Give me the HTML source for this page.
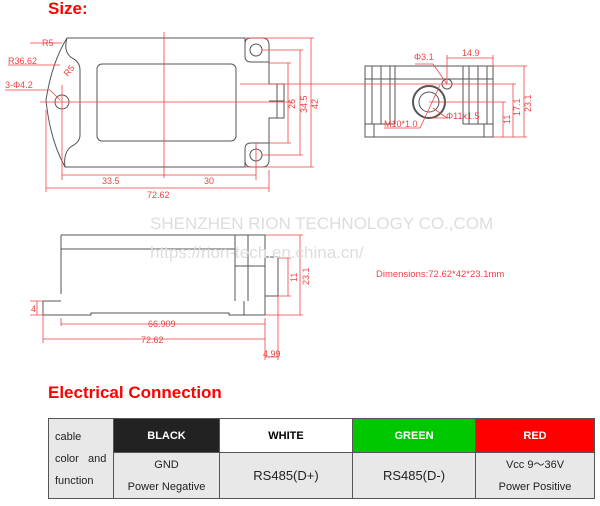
<!DOCTYPE html><html><head><style>
body{margin:0;width:600px;height:506px;background:#fff;position:relative;overflow:hidden;font-family:"Liberation Sans",sans-serif}
.t{position:absolute}
table{position:absolute;left:48px;top:418px;width:546px;table-layout:fixed;border-collapse:collapse;font-size:11px;color:#222}
td{border:1px solid #555;text-align:center;padding:0;background:#e8e8e8;overflow:hidden}
</style></head><body>
<div class="t" style="left:48px;top:-1px;color:#f00;font-weight:bold;font-size:17px">Size:</div>
<svg width="600" height="380" style="position:absolute;left:0;top:0" font-family="Liberation Sans" font-size="9" fill="none">
<g stroke="#555" stroke-width="1">
<path d="M67,38 H245 V56 Q245,62 251,62 H269 V84 H284 V118 H269 V143 H251 Q245,143 245,149 V167 H65 Q50,140 46,100 Q52,62 67,38 Z"/>
<path d="M67,38 Q63,52 72,58 Q80,62 80,70 V135 Q80,142 72,146 Q63,152 65,167"/>
<path d="M245,38 V44 Q245,38 251,38 H262 Q269,38 269,45 V62"/>
<path d="M245,167 V160 Q245,167 251,167 H262 Q269,167 269,160 V143"/>
<rect x="97" y="64" width="139" height="77" rx="5"/>
<circle cx="62" cy="102" r="7"/><circle cx="256" cy="50" r="6"/><circle cx="256" cy="155" r="6"/>
<line x1="277" y1="84" x2="277" y2="118"/><line x1="269" y1="101" x2="284" y2="101"/>
<rect x="365" y="66" width="128" height="71"/><line x1="365" y1="79" x2="493" y2="79"/>
<path d="M372,66V124M381,66V124M390,66V124M395,66V124M463,66V124M469,66V124M478,66V124M487,66V124M365,124H395M463,124H493M374,124V137M484,124V137"/>
<circle cx="447" cy="84" r="5"/><circle cx="429" cy="102" r="16" stroke-width="2"/><circle cx="429" cy="102" r="10"/>
<path d="M61,235 H265 V315 H244 M61,235 V294 M61,249 H235 M235,235 V301 M248,235 V301 M235,266 H265 M43,301 H61 M43,301 V315 H91 V313 H229 V315 H244 V301"/>
<rect x="265" y="257" width="13" height="39"/>
</g>
<g stroke="#e44" stroke-width="0.8">
<path d="M164,32V178M40,102H292M62,85V180M256,143V180M269,170V192M46,110V192M62,175H256M46,188H269M245,38H314M262,50H303M269,63H291M269,143H291M262,155H303M245,167H314M311,38V167M300,50V155M288,63V143"/>
<path d="M447,55V84M493,55V66M447,58H493M240,84H516M429,102H506M493,66H527M493,137H527M503,102V137M513,84V137M524,66V137M415,64H433L447,84M384,128H420L440,85M431,118H447L433,108"/>
<path d="M265,235H303M278,258H291M278,296H291M265,315H303M300,235V315M288,258V296M30,301H43M30,315H43M37,301V315M61,318V326M265,318V360M278,296V360M43,315V343M61,324H265M43,339H265M265,357H278M8,65L60,65M5,90H50L60,100M30,43H62"/>
</g>
<g fill="#e44" font-size="9">
<text x="42" y="46">R5</text><text x="8" y="64">R36.62</text><text x="5" y="88">3-Φ4.2</text>
<text x="64" y="75" transform="rotate(-50 68 72)">R5</text>
<text x="102" y="184">33.5</text><text x="204" y="184">30</text><text x="147" y="198">72.62</text>
<text transform="translate(295,109) rotate(-90)">26</text><text transform="translate(307,113) rotate(-90)">34.5</text><text transform="translate(318,109) rotate(-90)">42</text>
<text x="414" y="60">Φ3.1</text><text x="462" y="56">14.9</text><text x="384" y="127">M10*1.0</text><text x="446" y="119">Φ11x1.5</text>
<text transform="translate(510,124) rotate(-90)">11</text><text transform="translate(520,116) rotate(-90)">17.1</text><text transform="translate(531,112) rotate(-90)">23.1</text>
<text x="148" y="327">66.909</text><text x="141" y="343">72.62</text><text x="263" y="357">4.99</text>
<text x="31" y="312">4</text><text transform="translate(297,282) rotate(-90)">11</text><text transform="translate(309,285) rotate(-90)">23.1</text>
<text x="376" y="277" font-size="9.5">Dimensions:72.62*42*23.1mm</text>
</g>
<g fill="#ddd" font-size="17"><text x="150" y="229">SHENZHEN RION TECHNOLOGY CO.,COM</text><text x="150" y="258">https://rion-tech.en.china.cn/</text></g>
</svg>
<div class="t" style="left:48px;top:383px;color:#f00;font-weight:bold;font-size:17px">Electrical Connection</div>
<table>
<colgroup><col style="width:65px"><col style="width:106px"><col style="width:133px"><col style="width:123px"><col style="width:119px"></colgroup>
<tr style="height:34px"><td rowspan="2" style="text-align:left;padding-left:6px;line-height:22px">cable<br>color&nbsp;&nbsp;&nbsp;and<br>function</td>
<td style="background:#222;color:#fff;font-weight:bold">BLACK</td>
<td style="background:#fff;color:#000;font-weight:bold">WHITE</td>
<td style="background:#00c800;color:#fff;font-weight:bold">GREEN</td>
<td style="background:#f00;color:#fff;font-weight:bold">RED</td></tr>
<tr style="height:46px"><td style="line-height:22px">GND<br>Power Negative</td><td style="font-size:13px">RS485(D+)</td><td style="font-size:13px">RS485(D-)</td><td style="line-height:22px">Vcc 9～36V<br>Power Positive</td></tr>
</table>
</body></html>
